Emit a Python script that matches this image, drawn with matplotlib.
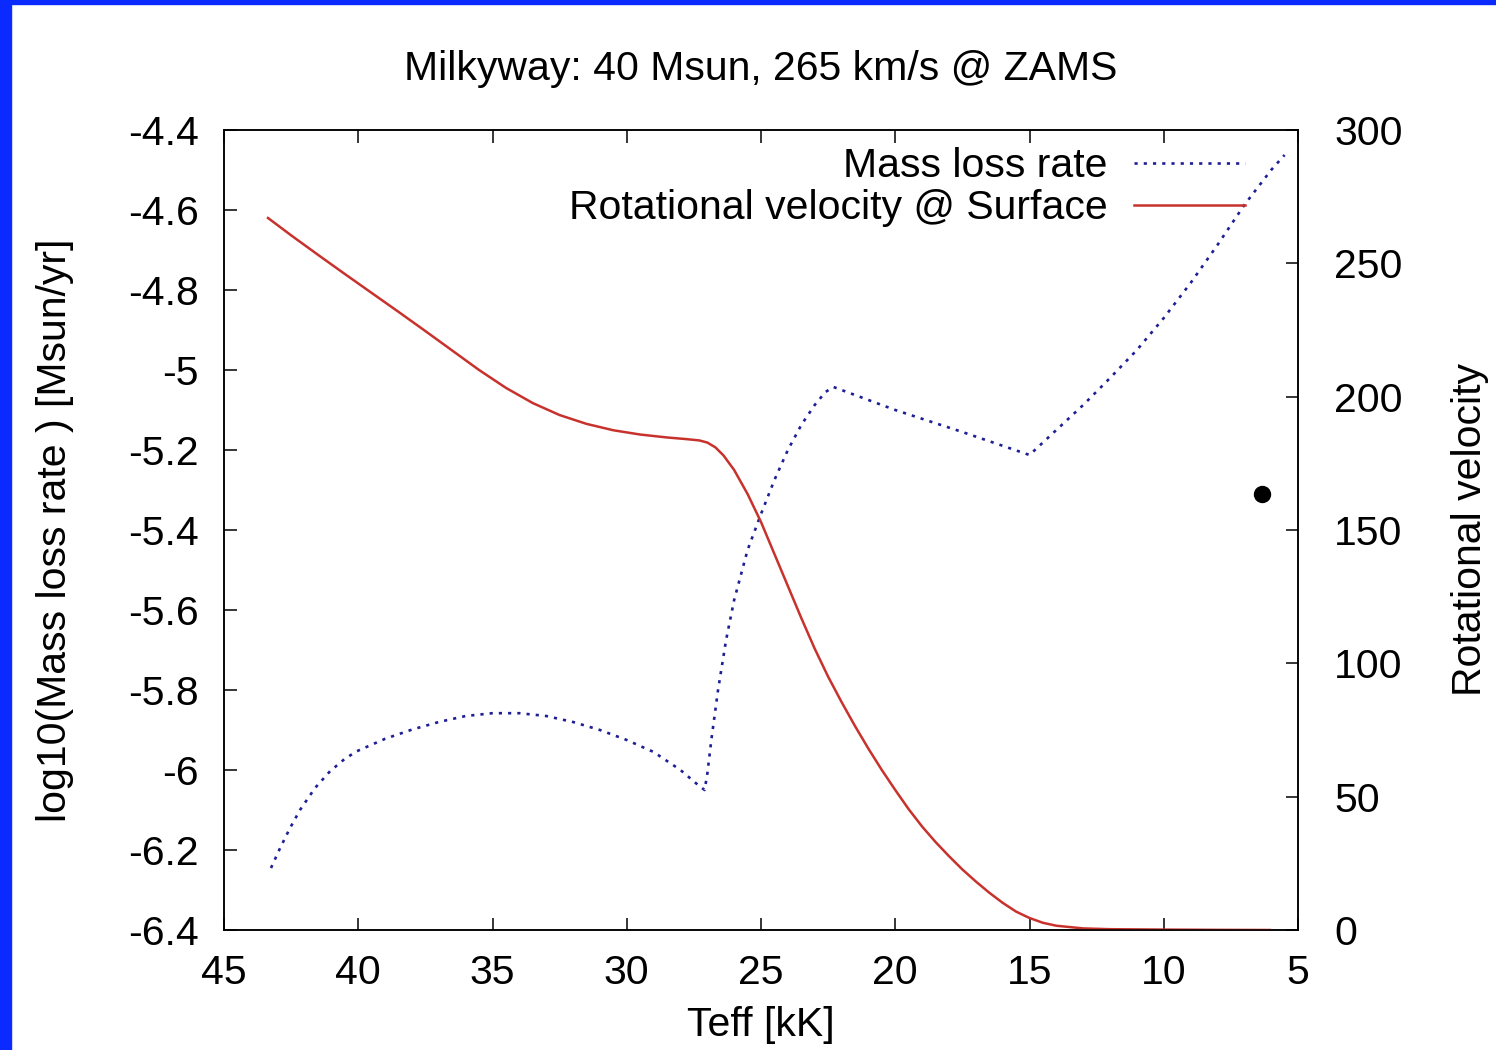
import matplotlib
matplotlib.use("Agg")
import matplotlib.pyplot as plt
from matplotlib.patches import Rectangle

plt.rcParams['font.family'] = ['Liberation Sans', 'DejaVu Sans']

# Mass loss rate track: Teff [kK] vs log10(Mdot)
teff_mdot = [43.25, 42.91, 42.54, 42.17, 41.61, 41.05, 40.5, 40.05, 39.0, 38.0,
             37.0, 36.0, 35.0, 34.0, 33.0, 32.0, 31.0, 30.0, 29.0, 28.0, 27.3,
             27.1, 27.0, 26.85, 26.6, 26.3, 26.0, 25.5, 25.0, 24.5, 24.0, 23.5,
             23.0, 22.6, 22.3, 20.0, 17.5, 15.0, 14.0, 13.0, 12.0, 11.0, 10.0,
             9.0, 8.0, 7.0, 6.0, 5.5]
log_mdot = [-6.245, -6.195, -6.145, -6.1, -6.045, -6.003, -5.972, -5.953,
            -5.922, -5.899, -5.88, -5.865, -5.858, -5.858, -5.865, -5.88, -5.90,
            -5.925, -5.955, -6.0, -6.04, -6.05, -6.01, -5.925, -5.80, -5.675,
            -5.575, -5.45, -5.36, -5.275, -5.2, -5.1375, -5.0875, -5.055,
            -5.0425, -5.1, -5.155, -5.2125, -5.15, -5.0875, -5.02, -4.95, -4.87,
            -4.7825, -4.6875, -4.5875, -4.5, -4.4625]

# Surface rotational velocity track: Teff [kK] vs v_rot [km/s]
teff_vrot = [43.36, 42.5, 41.5, 40.5, 39.5, 38.5, 37.5, 36.5, 35.5, 34.5, 33.5,
             32.5, 31.5, 30.5, 29.5, 28.5, 27.8, 27.3, 27.0, 26.7, 26.4, 26.0,
             25.5, 25.0, 24.5, 24.0, 23.5, 23.0, 22.5, 22.0, 21.5, 21.0, 20.5,
             20.0, 19.5, 19.0, 18.5, 18.0, 17.5, 17.0, 16.5, 16.0, 15.5, 15.0,
             14.5, 14.0, 13.0, 12.0, 10.0, 8.0, 6.04]
vrot = [267.0, 260.5, 253.2, 246.0, 238.9, 231.8, 224.6, 217.3, 210.0, 203.3,
        197.6, 193.1, 189.8, 187.4, 185.8, 184.7, 184.1, 183.6, 182.8, 181.0,
        178.0, 172.5, 163.5, 153.0, 141.0, 129.0, 117.0, 105.5, 95.0, 85.5,
        76.5, 68.0, 60.0, 52.5, 45.3, 38.8, 33.0, 27.7, 22.7, 18.2, 14.0, 10.2,
        6.9, 4.5, 2.7, 1.6, 0.6, 0.3, 0.15, 0.05, 0.0]

# Observed star
obs_teff = [6.34]
obs_log_mdot = [-5.31]

xticks = [45, 40, 35, 30, 25, 20, 15, 10, 5]
yticks_left = [-6.4, -6.2, -6.0, -5.8, -5.6, -5.4, -5.2, -5.0, -4.8, -4.6, -4.4]
ytick_labels_left = ['-6.4', '-6.2', '-6', '-5.8', '-5.6', '-5.4', '-5.2', '-5',
                     '-4.8', '-4.6', '-4.4']
yticks_right = [0, 50, 100, 150, 200, 250, 300]

W, H = 1496, 1050
fig = plt.figure(figsize=(W / 100, H / 100), dpi=100)
fig.patch.set_facecolor('white')

# blue frame strips along the left and top edges
fig.patches.append(Rectangle((0, 0), 11 / W, 1, transform=fig.transFigure,
                             color='#0a2aff', zorder=0))
fig.patches.append(Rectangle((0, 1 - 4 / H), 1, 4 / H, transform=fig.transFigure,
                             color='#0a2aff', zorder=0))

x0, x1, ytop, ybot = 224, 1298, 130, 930
ax = fig.add_axes([x0 / W, 1 - ybot / H, (x1 - x0) / W, (ybot - ytop) / H])
ax2 = ax.twinx()

FS = 29.5
blue = '#1e1e96'
red = '#c8322d'

l1, = ax.plot(teff_mdot, log_mdot, color=blue, lw=1.9,
              linestyle=(0, (1.2, 2.3)), label='Mass loss rate')
ax.plot(obs_teff, obs_log_mdot, 'o', color='black', markersize=11.5)
l2, = ax2.plot(teff_vrot, vrot, color=red, lw=1.8,
               label='Rotational velocity @ Surface')

ax.set_xlim(45, 5)
ax.set_ylim(-6.4, -4.4)
ax2.set_ylim(0, 300)

ax.set_xticks(xticks)
ax.set_xticklabels([str(t) for t in xticks])
ax.set_yticks(yticks_left)
ax.set_yticklabels(ytick_labels_left)
ax2.set_yticks(yticks_right)

ax.tick_params(axis='x', direction='in', length=9, width=1.1, top=True,
               labelsize=FS, pad=17)
ax.tick_params(axis='y', direction='in', length=9, width=1.1, right=False,
               labelsize=FS, pad=18)
ax2.tick_params(axis='y', direction='in', length=9, width=1.1,
                labelsize=FS, pad=26)

for a in (ax, ax2):
    for s in a.spines.values():
        s.set_linewidth(1.1)

fig.text(761 / W, 1 - 69 / H, 'Milkyway: 40 Msun, 265 km/s @ ZAMS',
         ha='center', va='center', fontsize=FS)
fig.text(761 / W, 1 - 1025 / H, 'Teff [kK]', ha='center', va='center',
         fontsize=FS)
fig.text(55 / W, 1 - 530 / H, 'log10(Mass loss rate ) [Msun/yr]',
         ha='center', va='center', rotation=90, fontsize=FS)
fig.text(1470 / W, 1 - 530 / H, 'Rotational velocity', ha='center',
         va='center', rotation=90, fontsize=FS)

leg = ax2.legend(handles=[l1, l2], loc='upper right',
                 bbox_to_anchor=((1245 - x0) / (x1 - x0), (ybot - 147) / (ybot - ytop)),
                 frameon=False, markerfirst=False, fontsize=FS,
                 handlelength=2.7, handletextpad=0.65, labelspacing=0.1,
                 borderaxespad=0, borderpad=0)

fig.savefig('out.png', dpi=100)
